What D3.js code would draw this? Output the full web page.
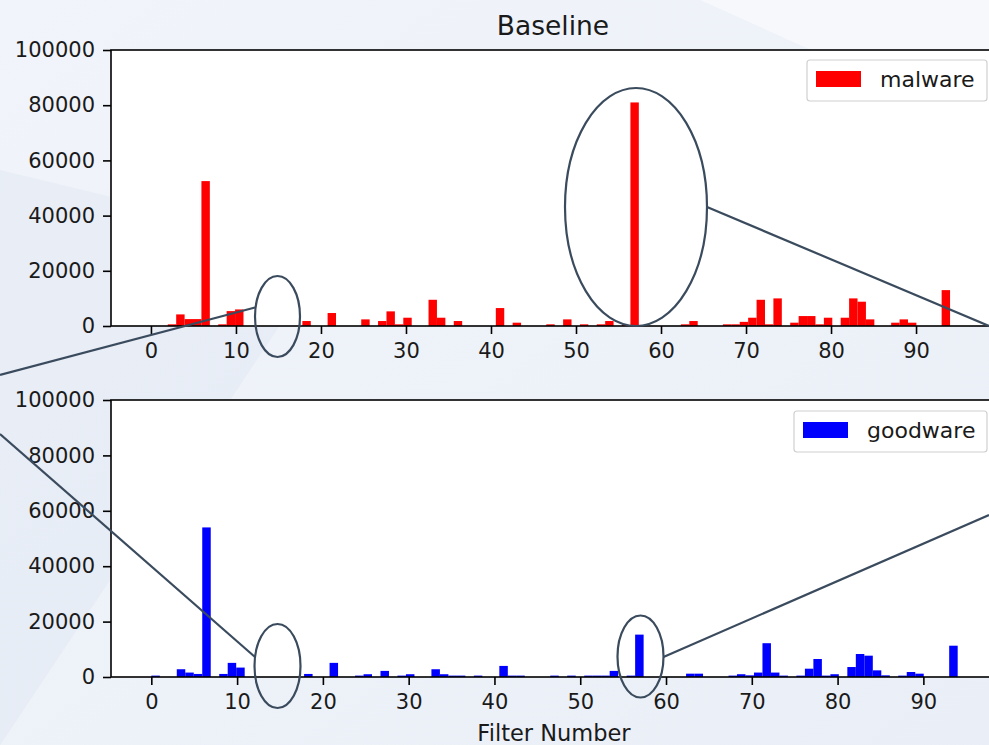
<!DOCTYPE html>
<html>
<head>
<meta charset="utf-8">
<script src="https://cdn.jsdelivr.net/npm/d3@7"></script>
<style>
  body { margin: 0; background: #eef2f8; }
  svg { display: block; font-family: "DejaVu Sans", sans-serif; }
  .tick text { fill: #1a1a1a; font-size: 21px; font-family: "DejaVu Sans", sans-serif; }
  .tick line { stroke: #000; stroke-width: 1.6; }
</style>
</head>
<body>
<svg id="chart" width="989" height="745"></svg>
<script>
// filter numbers 0..94, one histogram bin each
const filters = d3.range(95)

// counts per filter
const malware = [
  0, 0, 600, 4200, 2500, 2500, 52500, 0, 600, 5400,
  6000, 0, 0, 0, 0, 0, 0, 0, 1800, 0,
  0, 4700, 0, 0, 0, 2400, 0, 1800, 5300, 600,
  3000, 0, 0, 9500, 3000, 0, 1800, 0, 0, 0,
  0, 6500, 0, 1200, 0, 0, 0, 600, 0, 2400,
  0, 600, 0, 600, 1800, 0, 300, 81000, 0, 0,
  0, 0, 0, 600, 1800, 0, 0, 0, 600, 600,
  1500, 3000, 9500, 600, 10000, 0, 1200, 3600, 3600, 600,
  3000, 0, 3000, 10000, 8800, 2400, 0, 0, 1200, 2400,
  1200, 0, 0, 0, 13000
]
const goodware = [
  500, 0, 0, 2800, 1600, 1100, 54000, 0, 1100, 5100,
  3400, 0, 0, 0, 0, 0, 0, 0, 1100, 0,
  0, 5100, 0, 0, 500, 1000, 0, 2200, 0, 500,
  1000, 0, 0, 2800, 1000, 500, 500, 0, 500, 0,
  0, 4000, 500, 500, 0, 0, 0, 500, 0, 500,
  0, 500, 500, 500, 2200, 0, 500, 15300, 0, 0,
  0, 0, 0, 1200, 1200, 0, 0, 0, 500, 1000,
  600, 1600, 12200, 1600, 500, 0, 500, 3000, 6500, 500,
  1000, 0, 3600, 8300, 7700, 2400, 600, 0, 500, 1800,
  1200, 0, 0, 0, 11300
]

const xTicks = d3.range(0, 100, 10)
const yTicks = d3.range(0, 100001, 20000)
const binWidth = 94 / 95

const svg = d3.select("#chart")

// slide background
const defs = svg.append("defs")
const grad = defs.append("linearGradient").attr("id", "bg")
  .attr("x1", 0).attr("y1", 0).attr("x2", 1).attr("y2", 1)
grad.append("stop").attr("offset", "0%").attr("stop-color", "#f1f4fa")
grad.append("stop").attr("offset", "100%").attr("stop-color", "#eaeff7")
svg.append("rect").attr("width", 989).attr("height", 745).attr("fill", "url(#bg)")
svg.append("path").attr("d", "M0,170 L330,250 L0,745 Z").attr("fill", "#e3e9f4").attr("opacity", 0.6)
svg.append("path").attr("d", "M700,0 L989,0 L989,130 Z").attr("fill", "#f6f8fc")

function panel(data, color, label, x, y, legend) {
  const g = svg.append("g")
  const [x0, x1] = x.range()
  const [y0, y1] = y.range()

  g.append("rect")
    .attr("x", x0).attr("y", y1)
    .attr("width", x1 - x0).attr("height", y0 - y1)
    .attr("fill", "#fff")

  g.selectAll(".bar")
    .data(filters)
    .enter()
    .append("rect")
    .attr("class", "bar")
    .attr("x", i => x(i * binWidth))
    .attr("width", x(binWidth) - x(0))
    .attr("y", i => y(data[i]))
    .attr("height", i => y(0) - y(data[i]))
    .attr("fill", color)

  // spines
  g.append("rect")
    .attr("x", x0).attr("y", y1)
    .attr("width", x1 - x0).attr("height", y0 - y1)
    .attr("fill", "none").attr("stroke", "#000").attr("stroke-width", 1.6)

  const ax = g.append("g")
    .attr("transform", `translate(0,${y0})`)
    .call(d3.axisBottom(x).tickValues(xTicks).tickSize(8).tickPadding(9))
  const ay = g.append("g")
    .attr("transform", `translate(${x0},0)`)
    .call(d3.axisLeft(y).tickValues(yTicks).tickFormat(d3.format("d")).tickSize(8).tickPadding(8))
  ax.select(".domain").remove()
  ay.select(".domain").remove()

  // legend
  const lg = g.append("g")
  lg.append("rect")
    .attr("x", legend.x).attr("y", legend.y)
    .attr("width", legend.w).attr("height", 41)
    .attr("rx", 3)
    .attr("fill", "#fff").attr("fill-opacity", 0.85)
    .attr("stroke", "#d0d0d0").attr("stroke-width", 1.2)
  lg.append("rect")
    .attr("x", legend.x + 9).attr("y", legend.y + 11)
    .attr("width", 45).attr("height", 16)
    .attr("fill", color)
  lg.append("text")
    .attr("x", legend.x + 73).attr("y", legend.y + 27)
    .attr("font-size", 22).attr("fill", "#1a1a1a")
    .text(label)
}

const xTop = d3.scaleLinear().domain([-4.7, 98.7]).range([111, 990])
const yTop = d3.scaleLinear().domain([0, 100000]).range([326, 50])
const xBot = d3.scaleLinear().domain([-4.7, 98.7]).range([111, 998])
const yBot = d3.scaleLinear().domain([0, 100000]).range([677, 400])

panel(malware, "#ff0000", "malware", xTop, yTop, { x: 807, y: 60, w: 180 })
panel(goodware, "#0000ff", "goodware", xBot, yBot, { x: 794, y: 411, w: 193 })

svg.append("text")
  .attr("x", 553).attr("y", 35)
  .attr("text-anchor", "middle")
  .attr("font-size", 26.5).attr("fill", "#1a1a1a")
  .text("Baseline")

svg.append("text")
  .attr("x", 554).attr("y", 741)
  .attr("text-anchor", "middle")
  .attr("font-size", 22.5).attr("fill", "#1a1a1a")
  .text("Filter Number")

// callout annotations
const callouts = svg.append("g")
  .attr("fill", "none").attr("stroke", "#3b4b5e").attr("stroke-width", 2.2)
callouts.append("ellipse").attr("cx", 277.5).attr("cy", 316.5).attr("rx", 22.5).attr("ry", 40.5)
callouts.append("ellipse").attr("cx", 636).attr("cy", 207).attr("rx", 71).attr("ry", 119)
callouts.append("ellipse").attr("cx", 277.5).attr("cy", 666).attr("rx", 23).attr("ry", 42)
callouts.append("ellipse").attr("cx", 640.5).attr("cy", 656.5).attr("rx", 23).attr("ry", 41)
callouts.append("line").attr("x1", 255).attr("y1", 307.5).attr("x2", 0).attr("y2", 375)
callouts.append("line").attr("x1", 707).attr("y1", 207).attr("x2", 989).attr("y2", 326)
callouts.append("line").attr("x1", 255).attr("y1", 657).attr("x2", 0).attr("y2", 434)
callouts.append("line").attr("x1", 663.5).attr("y1", 657).attr("x2", 989).attr("y2", 515)
</script>
</body>
</html>
